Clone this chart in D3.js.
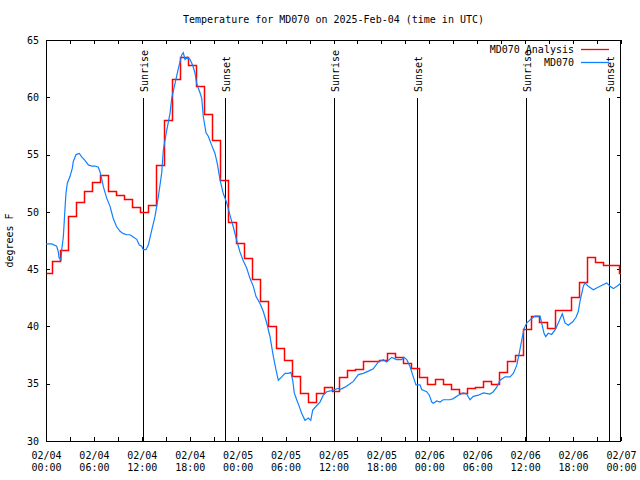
<!DOCTYPE html>
<html><head><meta charset="utf-8">
<script src="https://cdn.jsdelivr.net/npm/d3@7"></script>
<style>body{margin:0;background:#fff}svg{display:block}</style>
</head><body>
<svg id="chart" width="640" height="480"></svg>
<script>
const chartTitle = "Temperature for MD070 on 2025-Feb-04 (time in UTC)";
const yLabel = "degrees F";
const seriesNames = ["MD070 Analysis", "MD070"];
const seriesColors = ["#ff0000", "#1080ff"];

// hours since 2025-02-04 00:00 UTC
const analysisHours = [0,0.75,1.75,2.75,3.75,4.75,5.75,6.75,7.75,8.75,9.75,10.75,11.75,12.75,13.75,14.75,15.75,16.75,17.75,18.75,19.75,20.75,21.75,22.75,23.75,24.75,25.75,26.75,27.75,28.75,29.75,30.75,31.75,32.75,33.75,34.75,35.75,36.75,37.75,38.75,39.75,40.75,41.75,42.75,43.75,44.75,45.75,46.75,47.75,48.75,49.75,50.75,51.75,52.75,53.75,54.75,55.75,56.75,57.75,58.75,59.75,60.75,61.75,62.75,63.75,64.75,65.75,66.75,67.75,68.75,69.75,70.75,71.75,72];
const analysisTemps = [44.7,45.7,46.7,49.6,50.9,51.8,52.6,53.2,51.8,51.5,
  51.1,50.4,50.0,50.6,54.1,58.0,61.6,63.5,62.8,61.0,
  58.5,56.3,52.8,49.1,47.3,46.0,44.1,42.2,40.0,38.1,
  37.1,35.7,34.2,33.4,34.2,34.7,34.4,35.6,36.2,36.3,
  37.0,37.0,37.1,37.7,37.3,36.8,36.4,35.6,35.0,35.4,
  35.0,34.5,34.2,34.6,34.7,35.2,35.0,36.0,37.0,37.5,
  39.8,40.9,40.4,39.9,41.4,41.4,42.6,43.9,46.1,45.6,
  45.4,45.4,44.7,44.7];

const obsHours = [0.00,0.71,1.34,1.54,1.63,1.88,1.97,2.17,2.38,2.50,2.67,3.01,3.29,3.42,3.76,4.17,4.47,4.88,5.30,5.72,
  6.14,6.55,6.76,6.97,7.18,7.60,8.01,8.43,8.85,9.27,9.68,10.11,10.52,10.93,11.36,11.68,11.98,12.18,12.52,12.81,
  13.24,13.65,14.06,14.49,14.69,15.11,15.53,15.74,16.15,16.57,16.99,17.19,17.41,17.69,18.03,18.37,18.66,18.87,19.28,19.50,
  19.70,20.04,20.32,20.75,21.16,21.45,21.79,22.20,22.63,23.04,23.45,23.88,24.29,24.71,25.13,25.54,25.96,26.30,26.80,27.21,
  27.64,28.05,28.46,28.80,29.09,29.51,29.93,30.34,30.68,30.89,31.09,31.39,31.72,32.02,32.43,32.85,33.15,33.40,33.90,34.31,
  34.72,35.15,35.78,36.19,36.60,36.81,37.44,38.07,38.48,39.11,39.73,40.36,40.98,41.61,42.24,42.66,43.29,43.91,44.54,44.83,
  45.17,45.58,45.99,46.33,46.83,47.04,47.67,48.00,48.30,48.50,48.92,49.34,49.75,50.59,51.00,51.63,52.25,52.68,53.09,53.51,
  54.14,54.76,55.60,56.01,56.44,56.85,57.48,58.10,58.52,58.94,59.27,59.57,59.86,60.19,60.82,61.23,61.86,62.07,62.36,62.57,
  62.90,63.32,63.74,64.15,64.65,64.99,65.40,65.95,66.37,66.65,66.87,67.28,67.49,67.91,68.53,69.37,70.21,70.63,71.05,71.66,72.00];
const obsTemps = [47.2,47.2,47.0,46.5,46.0,45.8,46.7,47.8,50.3,51.6,52.5,53.1,53.8,54.4,55.0,55.1,54.8,54.5,54.1,54.0,
  54.0,53.9,53.5,52.9,52.2,51.2,50.5,49.4,48.7,48.3,48.1,48.0,48.0,47.8,47.6,47.1,47.0,46.7,46.7,47.1,
  48.4,49.6,51.3,53.4,55.4,57.1,58.6,59.9,61.2,62.5,63.7,63.9,63.3,63.5,63.3,62.8,62.1,61.2,60.4,59.9,
  58.3,56.9,56.6,55.8,55.1,54.2,52.8,51.6,50.8,49.7,48.7,47.5,46.5,45.7,45.1,44.2,43.5,42.6,42.0,41.3,
  40.3,39.1,37.4,36.2,35.3,35.6,35.9,35.9,36.0,35.3,34.2,33.6,33.0,32.4,31.8,32.0,31.8,32.7,33.1,33.4,
  34.0,34.3,34.4,34.5,34.6,34.5,34.7,35.0,35.2,35.8,35.9,36.1,36.3,36.9,37.1,36.9,37.3,37.1,37.1,37.3,
  37.1,36.5,35.6,34.9,34.9,34.5,34.3,34.0,33.4,33.3,33.5,33.4,33.6,33.6,33.7,34.0,34.2,34.1,33.6,33.9,
  34.0,34.2,34.1,34.3,34.7,35.3,35.6,35.6,35.9,36.6,37.7,38.8,39.8,40.3,40.7,40.9,40.9,40.3,39.4,39.1,
  39.4,39.3,39.7,40.3,41.1,40.3,40.1,40.4,40.8,41.3,42.2,43.5,43.8,43.5,43.2,43.5,43.8,43.5,43.3,43.6,43.8];

const sunEventHours = [12.12, 22.42, 36.10, 46.43, 60.08, 70.45];
const sunEventNames = ["Sunrise", "Sunset", "Sunrise", "Sunset", "Sunrise", "Sunset"];

const xMinorTickHours = [0,3,6,9,12,15,18,21,24,27,30,33,36,39,42,45,48,51,54,57,60,63,66,69,72];
const xTickHours = [0,6,12,18,24,30,36,42,48,54,60,66,72];
const xTickDates = ["02/04","02/04","02/04","02/04","02/05","02/05","02/05","02/05","02/06","02/06","02/06","02/06","02/07"];
const xTickTimes = ["00:00","06:00","12:00","18:00","00:00","06:00","12:00","18:00","00:00","06:00","12:00","18:00","00:00"];
const yTicks = [30,35,40,45,50,55,60,65];

const FONT = "'DejaVu Sans Mono', 'Liberation Mono', monospace";
const L = 46, R = 621, T = 40, B = 441;

const svg = d3.select("#chart");
const x = d3.scaleLinear().domain([0, 72]).range([L, R]);
const y = d3.scaleLinear().domain([30, 65]).range([B, T]);

svg.append("rect").attr("width", 640).attr("height", 480).attr("fill", "#fff");

// title
svg.append("text").attr("x", (L + R) / 2).attr("y", 23)
  .attr("text-anchor", "middle").attr("font-family", FONT).attr("font-size", 10)
  .text(chartTitle);

// y label
svg.append("text").attr("transform", `translate(13,${(T + B) / 2}) rotate(-90)`)
  .attr("text-anchor", "middle").attr("font-family", FONT).attr("font-size", 10)
  .text(yLabel);

const TS = 4;
function styleAxis(g) {
  g.selectAll("path.domain").remove();
  g.selectAll("line").attr("stroke", "#000").attr("shape-rendering", "crispEdges");
  g.selectAll("text").attr("font-family", FONT).attr("font-size", 10).attr("fill", "#000");
}

// bottom ticks (inward)
svg.append("g").attr("transform", `translate(0,${B})`)
  .call(d3.axisBottom(x).tickValues(xMinorTickHours).tickSizeInner(-TS).tickSizeOuter(0).tickFormat(""))
  .call(styleAxis);
// top ticks
svg.append("g").attr("transform", `translate(0,${T})`)
  .call(d3.axisTop(x).tickValues(xMinorTickHours).tickSizeInner(-TS).tickSizeOuter(0).tickFormat(""))
  .call(styleAxis);
// bottom labels
const xl = svg.append("g").attr("transform", `translate(0,${B})`)
  .call(d3.axisBottom(x).tickValues(xTickHours).tickSize(0).tickPadding(11).tickFormat((d, i) => xTickDates[i]))
  .call(styleAxis);
xl.selectAll(".tick text").each(function (d, i) {
  const t = d3.select(this);
  t.text(null);
  t.append("tspan").attr("x", 0).text(xTickDates[i]);
  t.append("tspan").attr("x", 0).attr("dy", "1.2em").text(xTickTimes[i]);
});

// left axis
svg.append("g").attr("transform", `translate(${L},0)`)
  .call(d3.axisLeft(y).tickValues(yTicks).tickSizeInner(-TS).tickSizeOuter(0).tickPadding(7).tickFormat(d3.format("d")))
  .call(styleAxis);
// right ticks
svg.append("g").attr("transform", `translate(${R},0)`)
  .call(d3.axisRight(y).tickValues(yTicks).tickSizeInner(-TS).tickSizeOuter(0).tickFormat(""))
  .call(styleAxis);

// frame
svg.append("rect").attr("x", L + 0.5).attr("y", T + 0.5).attr("width", R - L - 1).attr("height", B - T)
  .attr("fill", "none").attr("stroke", "#000").attr("shape-rendering", "crispEdges");

// clip
svg.append("clipPath").attr("id", "plotclip").append("rect")
  .attr("x", L).attr("y", T).attr("width", R - L).attr("height", B - T);

// sun events
const sun = svg.append("g");
sunEventHours.forEach((h, i) => {
  const xx = Math.round(x(h)) + 0.5;
  sun.append("line").attr("x1", xx).attr("x2", xx).attr("y1", 98).attr("y2", B)
    .attr("stroke", "#000").attr("stroke-width", 1.2).attr("shape-rendering", "crispEdges");
  sun.append("text").attr("transform", `translate(${xx},92) rotate(-90)`)
    .attr("dy", "0.42em").attr("font-family", FONT).attr("font-size", 10)
    .text(sunEventNames[i]);
});

const plot = svg.append("g").attr("clip-path", "url(#plotclip)");

const analysisData = analysisHours.map((h, i) => [h, analysisTemps[i]]);
const obsData = obsHours.map((h, i) => [h, obsTemps[i]]);

plot.append("path").datum(analysisData)
  .attr("d", d3.line().x(d => Math.round(x(d[0])) + 0.5).y(d => Math.round(y(d[1])) + 0.5).curve(d3.curveStepAfter))
  .attr("fill", "none").attr("stroke", seriesColors[0]).attr("stroke-width", 1.5)
  .attr("stroke-linejoin", "miter");

plot.append("path").datum(obsData)
  .attr("d", d3.line().x(d => x(d[0])).y(d => y(d[1])))
  .attr("fill", "none").attr("stroke", seriesColors[1]).attr("stroke-width", 1.2);

// legend
const legend = svg.append("g");
seriesNames.forEach((name, i) => {
  const by = 53 + i * 13;
  legend.append("text").attr("x", 574).attr("y", by).attr("text-anchor", "end")
    .attr("font-family", FONT).attr("font-size", 10).text(name);
  legend.append("line").attr("x1", 581).attr("x2", 609).attr("y1", by - 3.5).attr("y2", by - 3.5)
    .attr("stroke", seriesColors[i]).attr("stroke-width", 1.3);
});
</script>
</body></html>
